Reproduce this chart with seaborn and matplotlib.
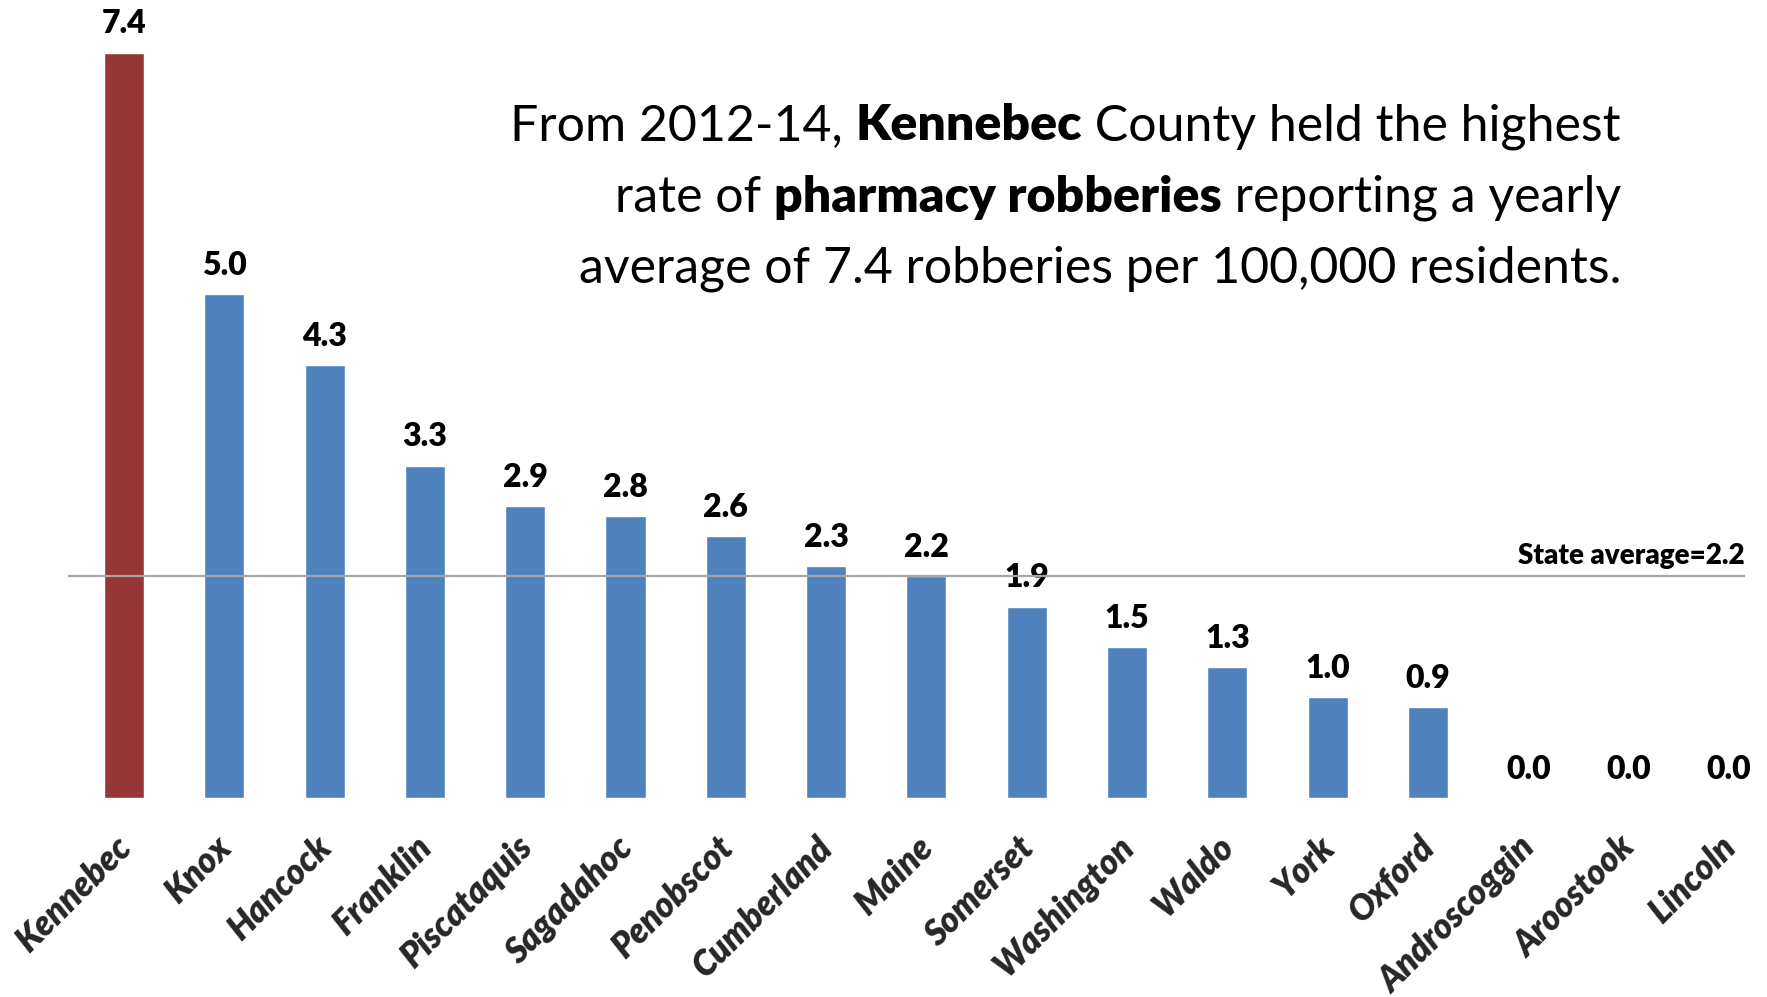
import matplotlib
matplotlib.use("Agg")
import matplotlib.pyplot as plt
import matplotlib.transforms as mtransforms
import seaborn as sns
from matplotlib.offsetbox import TextArea, HPacker, VPacker, AnnotationBbox

counties = ["Kennebec", "Knox", "Hancock", "Franklin", "Piscataquis", "Sagadahoc",
            "Penobscot", "Cumberland", "Maine", "Somerset", "Washington", "Waldo",
            "York", "Oxford", "Androscoggin", "Aroostook", "Lincoln"]
rates = [7.4, 5.0, 4.3, 3.3, 2.9, 2.8, 2.6, 2.3, 2.2, 1.9, 1.5, 1.3, 1.0, 0.9, 0.0, 0.0, 0.0]
state_average = 2.2

highlight = "Kennebec"
red = "#953735"
blue = "#4F81BD"

sns.set_theme(style="white")
FONT = "Lato"
plt.rcParams["font.family"] = [FONT, "DejaVu Sans"]
HEAVY = "heavy"

W, H = 1767, 997
fig = plt.figure(figsize=(W / 100, H / 100), dpi=100)

# axes: baseline at y=798 px, category pitch ~100 px
x_lo, x_hi = -0.6, 16.38
pitch = 100.3
left_px = 124 - 0.6 * pitch
ax = fig.add_axes([left_px / W, 1 - 798 / H, (x_hi - x_lo) * pitch / W, 798 / H])

palette = {c: (red if c == highlight else blue) for c in counties}
sns.barplot(x=counties, y=rates, hue=counties, palette=palette, legend=False,
            width=0.4, saturation=1, ax=ax, zorder=2)

ax.set_xlim(x_lo, x_hi)
ax.set_ylim(0, 798 / 100.7)
for s in ax.spines.values():
    s.set_visible(False)
ax.set_yticks([])
ax.set_xlabel("")
ax.set_ylabel("")
ax.tick_params(axis="x", length=0, pad=22)
ax.set_xticks(range(len(counties)))
ax.set_xticklabels(counties, rotation=45, ha="right", va="top",
                   rotation_mode="anchor", fontsize=25, fontweight=HEAVY,
                   fontstyle="italic")
shift = mtransforms.ScaledTranslation(-0.10, -0.02, fig.dpi_scale_trans)
for lab in ax.get_xticklabels():
    lab.set_transform(lab.get_transform() + shift)

# value labels above each bar
for i, v in enumerate(rates):
    ax.annotate(f"{v:.1f}", xy=(i, v), xytext=(0, 14), textcoords="offset points",
                ha="center", va="baseline", fontsize=23, fontweight=HEAVY,
                color="black", zorder=3)

# state average reference line
n = len(counties)
ax.hlines(state_average, -0.56, n - 0.84, color="#A6A6A6", lw=1.6, zorder=4)
ax.annotate(f"State average={state_average}", xy=(n - 0.84, state_average),
            xytext=(0, 9), textcoords="offset points", ha="right", va="baseline",
            fontsize=20, fontweight=HEAVY, color="black")

# headline with bold highlights
lines = [
    [("From 2012-14, ", "normal"), ("Kennebec", HEAVY), (" County held the highest", "normal")],
    [("rate of ", "normal"), ("pharmacy robberies", HEAVY), (" reporting a yearly", "normal")],
    [("average of 7.4 robberies per 100,000 residents.", "normal")],
]
rows = []
for parts in lines:
    areas = [TextArea(t, textprops=dict(fontsize=36, fontweight=w, color="black",
                                        family=[FONT, "DejaVu Sans"]))
             for t, w in parts]
    rows.append(HPacker(children=areas, align="baseline", pad=0, sep=0))
block = VPacker(children=rows, align="right", pad=0, sep=18)
ab = AnnotationBbox(block, (1621 / W, 1 - 103 / H), xycoords="figure fraction",
                    box_alignment=(1, 1), frameon=False)
fig.add_artist(ab)

fig.savefig("out.png", dpi=100)
